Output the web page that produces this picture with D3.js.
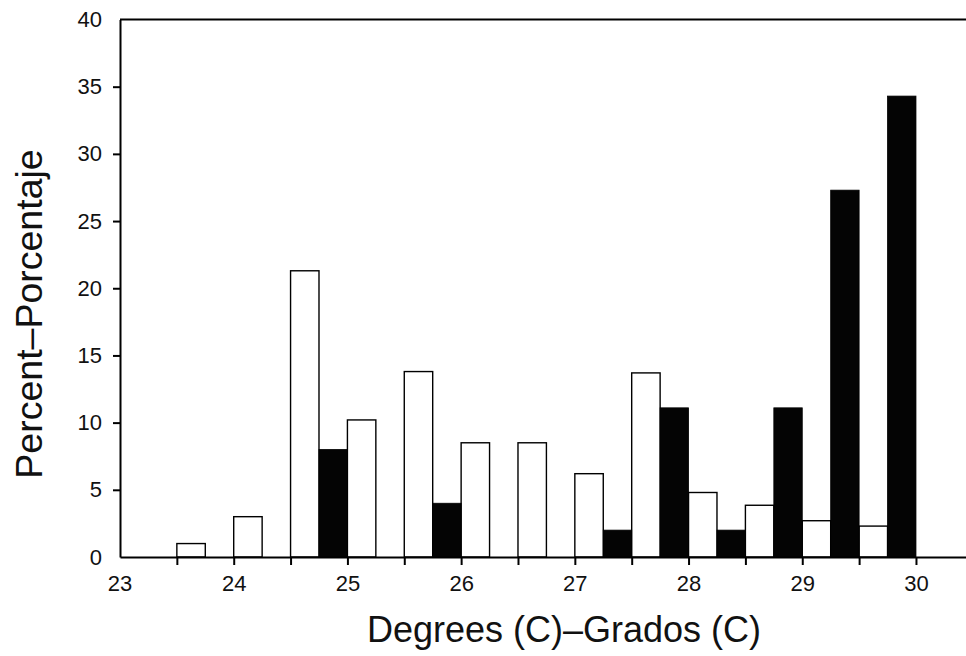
<!DOCTYPE html>
<html>
<head>
<meta charset="utf-8">
<script src="https://cdn.jsdelivr.net/npm/d3@7"></script>
<style>
  body { margin: 0; background: #fff; }
  svg { display: block; font-family: "Liberation Sans", Arial, sans-serif; }
  .axis path, .axis line { stroke: #000; stroke-width: 2px; }
</style>
</head>
<body>
<div id="chart"></div>
<script>
// bin start of each half-degree class
var bins = [23.5, 24, 24.5, 25, 25.5, 26, 26.5, 27, 27.5, 28, 28.5, 29, 29.5];
// open bars (left half of each bin)
var whiteVals = [1.0, 3.0, 21.3, 10.2, 13.8, 8.5, 8.5, 6.2, 13.7, 4.8, 3.85, 2.7, 2.3];
// filled bars (right half of each bin)
var blackVals = [0, 0, 8.0, 0, 4.0, 0, 0, 2.0, 11.1, 2.0, 11.1, 27.3, 34.3];
var xTickVals = [23.5, 24, 24.5, 25, 25.5, 26, 26.5, 27, 27.5, 28, 28.5, 29, 29.5, 30];
var xLabels = [23, 24, 25, 26, 27, 28, 29, 30];
var yTickVals = [0, 5, 10, 15, 20, 25, 30, 35, 40];

var width = 966, height = 656;
var margin = {top: 19.5, left: 120, bottom: 557};

var x = d3.scaleLinear()
    .domain([23, 30.44])
    .range([margin.left, width]);

var y = d3.scaleLinear()
    .domain([0, 40])
    .range([margin.bottom, margin.top]);

var svg = d3.select("#chart").append("svg")
    .attr("width", width)
    .attr("height", height);

// bars
var half = 0.25;
svg.append("g").selectAll("rect.open")
    .data(bins.map(function(b, i) { return {x: b, v: whiteVals[i]}; }).filter(function(d) { return d.v > 0; }))
  .enter().append("rect")
    .attr("class", "open")
    .attr("x", function(d) { return x(d.x); })
    .attr("width", function(d) { return x(d.x + half) - x(d.x); })
    .attr("y", function(d) { return y(d.v); })
    .attr("height", function(d) { return y(0) - y(d.v); })
    .attr("fill", "#fff")
    .attr("stroke", "#000")
    .attr("stroke-width", 1.4);

svg.append("g").selectAll("rect.filled")
    .data(bins.map(function(b, i) { return {x: b + half, v: blackVals[i]}; }).filter(function(d) { return d.v > 0; }))
  .enter().append("rect")
    .attr("class", "filled")
    .attr("x", function(d) { return x(d.x); })
    .attr("width", function(d) { return x(d.x + half) - x(d.x); })
    .attr("y", function(d) { return y(d.v); })
    .attr("height", function(d) { return y(0) - y(d.v); })
    .attr("fill", "#040404")
    .attr("stroke", "#000")
    .attr("stroke-width", 0.8);

// top frame line
svg.append("line")
    .attr("x1", margin.left).attr("x2", width)
    .attr("y1", margin.top).attr("y2", margin.top)
    .attr("stroke", "#000").attr("stroke-width", 2);

// y axis
var yAxis = svg.append("g")
    .attr("class", "axis")
    .attr("transform", "translate(" + margin.left + ",0)")
    .call(d3.axisLeft(y).tickValues(yTickVals).tickSize(7).tickPadding(11).tickSizeOuter(0));
yAxis.selectAll(".tick line").filter(function(d) { return d === 0 || d === 40; }).remove();

// x axis: ticks every half degree, labels at whole degrees
var xAxis = svg.append("g")
    .attr("class", "axis")
    .attr("transform", "translate(0," + margin.bottom + ")")
    .call(d3.axisBottom(x).tickValues(xTickVals).tickSize(8).tickPadding(10).tickSizeOuter(0)
      .tickFormat(function(d) { return Number.isInteger(d) ? d : ""; }));

// label at 23 (no tick line there)
xAxis.append("text")
    .attr("x", x(xLabels[0]))
    .attr("y", 18)
    .attr("dy", "0.71em")
    .attr("text-anchor", "middle")
    .text(xLabels[0]);

svg.selectAll(".axis text")
    .style("font-size", "22px")
    .style("font-family", "'Liberation Sans', Arial, sans-serif")
    .style("fill", "#111");

// axis titles
svg.append("text")
    .attr("x", 564)
    .attr("y", 642)
    .attr("text-anchor", "middle")
    .style("font-size", "36px")
    .style("fill", "#111")
    .text("Degrees (C)\u2013Grados (C)");

svg.append("text")
    .attr("transform", "translate(42,314) rotate(-90)")
    .attr("text-anchor", "middle")
    .style("font-size", "37.5px")
    .style("fill", "#111")
    .text("Percent\u2013Porcentaje");
</script>
</body>
</html>
